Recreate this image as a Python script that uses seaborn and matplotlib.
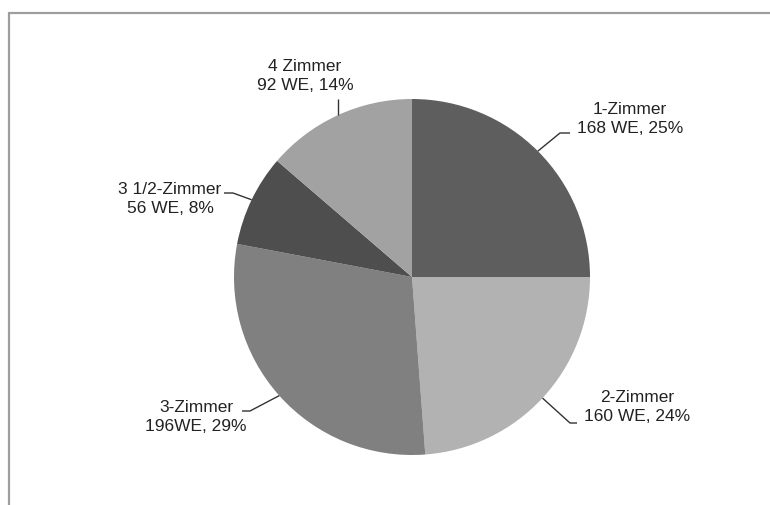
import matplotlib
matplotlib.use("Agg")
import matplotlib.pyplot as plt
from matplotlib.lines import Line2D
import numpy as np
import seaborn as sns

# Wohnungsmix nach Zimmeranzahl (Wohneinheiten)
categories = ["1-Zimmer", "2-Zimmer", "3-Zimmer", "3 1/2-Zimmer", "4 Zimmer"]
units = [168, 160, 196, 56, 92]
unit_sep = [" ", " ", "", " ", " "]   # "196WE" is written without a space
colors = ["#5e5e5e", "#b2b2b2", "#808080", "#4e4e4e", "#a2a2a2"]

sns.set_theme(style="white")
plt.rcParams["font.family"] = ["Liberation Sans", "DejaVu Sans"]

W, H = 770, 505
fig = plt.figure(figsize=(W / 100, H / 100), dpi=100)
ax = fig.add_axes([0, 0, 1, 1])

# pixel-like coordinates, y pointing down
cx, cy, r = 412, 277, 178
wedges, _ = ax.pie(units, colors=sns.color_palette(colors), startangle=270,
                   counterclock=True, center=(cx, cy), radius=r,
                   wedgeprops=dict(linewidth=0))
ax.set_xlim(0, W)
ax.set_ylim(H, 0)
ax.set_aspect("auto")
ax.axis("off")

total = sum(units)
labels = [f"{c}\n{v}{s}WE, {round(100 * v / total)}%"
          for c, v, s in zip(categories, units, unit_sep)]

# label block centre and connector path (text end -> elbow) for each slice
text_pos = [(630, 119), (637, 407), (196, 417), (170, 199), (305, 76)]
leader = [[(570, 133), (560, 133)],
          [(577, 423), (570, 423)],
          [(242, 411), (250, 411)],
          [(224, 193), (233, 193)],
          [(338, 99)]]

txt_color = "#222222"
for w, lab, tp, path in zip(wedges, labels, text_pos, leader):
    mid = np.deg2rad((w.theta1 + w.theta2) / 2)
    edge = (cx + r * np.cos(mid), cy + r * np.sin(mid))
    if len(path) == 1:
        edge = (path[0][0], cy - np.sqrt(r ** 2 - (path[0][0] - cx) ** 2))
    pts = path + [edge]
    ax.plot([p[0] for p in pts], [p[1] for p in pts], color="#333333",
            lw=1.0, solid_capstyle="butt")
    ax.text(tp[0], tp[1], lab, ha="center", va="center", fontsize=12.5,
            color=txt_color, linespacing=1.3, multialignment="center")

# thin frame on top and left edges
fig.add_artist(Line2D([9 / W, 1], [1 - 13 / H, 1 - 13 / H], color="#9e9e9e",
                      lw=1.6, transform=fig.transFigure))
fig.add_artist(Line2D([9 / W, 9 / W], [0, 1 - 13 / H], color="#9e9e9e",
                      lw=1.6, transform=fig.transFigure))

fig.savefig("out.png", dpi=100, facecolor="white")
